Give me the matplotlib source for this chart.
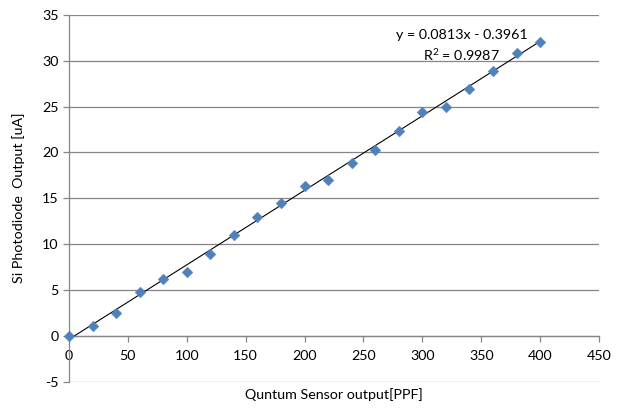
import matplotlib
matplotlib.use("Agg")
import matplotlib.pyplot as plt
import numpy as np

# Data
quantum_ppf = [0, 20, 40, 60, 80, 100, 120, 140, 160, 180, 200,
               220, 240, 260, 280, 300, 320, 340, 360, 380, 400]
photodiode_ua = [0.0, 1.05, 2.5, 4.73, 6.15, 6.9, 8.9, 10.95, 12.94, 14.44, 16.36,
                 16.98, 18.9, 20.28, 22.29, 24.36, 25.0, 26.94, 28.94, 30.9, 32.0]
trend_slope = 0.0813
trend_intercept = -0.3961
r_squared = 0.9987
x_ticks = [0, 50, 100, 150, 200, 250, 300, 350, 400, 450]
y_ticks = [-5, 0, 5, 10, 15, 20, 25, 30, 35]

plt.rcParams['font.family'] = ['Lato', 'DejaVu Sans']
plt.rcParams['axes.unicode_minus'] = False
plt.rcParams['mathtext.fontset'] = 'custom'
plt.rcParams['mathtext.rm'] = 'Lato'
plt.rcParams['mathtext.it'] = 'Lato'

fig = plt.figure(figsize=(6.2, 4.11), dpi=100)
ax = fig.add_axes([69/620, 1-381.5/411, (599-69)/620, (381.5-15)/411])

grid_color = '#868686'
fs = 10.3
ax.set_xlim(0, 450)
ax.set_ylim(-5, 35)
ax.set_xticks(x_ticks)
ax.set_yticks(y_ticks)
ax.yaxis.grid(True, color=grid_color, linewidth=0.9)
ax.set_axisbelow(True)

for s in ['top', 'right']:
    ax.spines[s].set_visible(False)
ax.spines['left'].set_color(grid_color)
ax.spines['bottom'].set_color(grid_color)
ax.spines['bottom'].set_position(('data', 0))
ax.spines['left'].set_linewidth(0.9)
ax.spines['bottom'].set_linewidth(0.9)
ax.tick_params(axis='both', colors=grid_color, labelcolor='#000000',
               labelsize=fs, length=4.5, width=0.9)
ax.tick_params(axis='x', pad=6)
ax.tick_params(axis='y', pad=3)

# trendline
xt = np.array([min(quantum_ppf), max(quantum_ppf)])
ax.plot(xt, trend_slope * xt + trend_intercept, color='black', linewidth=0.8, zorder=3)

ax.scatter(quantum_ppf, photodiode_ua, marker='D', s=30, color='#4F81BD',
           edgecolors='#4F81BD', linewidths=0.3, zorder=4, clip_on=False)

ax.text(333.5, 32.8, f"y = {trend_slope}x - {abs(trend_intercept)}", ha='center', va='center', fontsize=fs)
ax.text(333.5, 30.6, f"R$^2$ = {r_squared}", ha='center', va='center', fontsize=fs)

fig.text(334/620, 1-395/411, "Quntum Sensor output[PPF]", ha='center', va='center', fontsize=fs)
fig.text(19/620, 1-198/411, "Si Photodiode  Output [uA]", ha='center', va='center',
         rotation=90, fontsize=fs)

fig.savefig("out.png", dpi=100)
